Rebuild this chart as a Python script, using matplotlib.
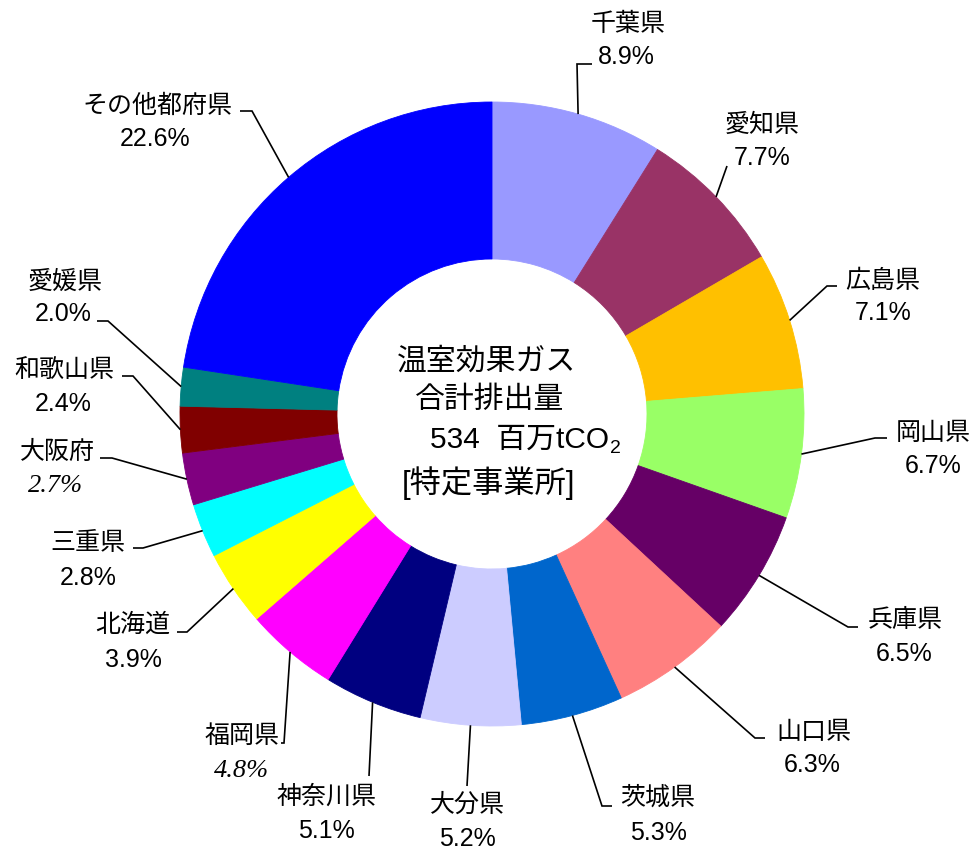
import numpy as np
import matplotlib
matplotlib.use('Agg')
import matplotlib.pyplot as plt

# ---------------- data ----------------
names = ['千葉県', '愛知県', '広島県', '岡山県', '兵庫県', '山口県', '茨城県', '大分県',
         '神奈川県', '福岡県', '北海道', '三重県', '大阪府', '和歌山県', '愛媛県', 'その他都府県']
shares = [8.9, 7.7, 7.1, 6.7, 6.5, 6.3, 5.3, 5.2, 5.1, 4.8, 3.9, 2.8, 2.7, 2.4, 2.0, 22.6]
colors = ['#9999FF', '#993366', '#FFC000', '#99FF66', '#660066', '#FF8080', '#0066CC', '#CCCCFF',
          '#000080', '#FF00FF', '#FFFF00', '#00FFFF', '#800080', '#800000', '#008080', '#0000FF']
italic_items = ['福岡県', '大阪府']
center_lines = ['温室効果ガス', '合計排出量']
total_value = 534
total_unit = '百万tCO'
center_note = '[特定事業所]'

# ---------------- layout (pixel coordinates, y downward) ----------------
W_PX, H_PX = 977, 854
CX, CY, R, RING = 492, 415, 312, 157

# (name x, name y, pct x, pct y)
label_pos = [
    (628, 24, 626, 57),
    (762, 125, 762, 158),
    (883, 281, 883, 313),
    (933, 433, 933, 466),
    (905, 620, 904, 654),
    (814, 732, 812, 765),
    (658, 798, 658, 833),
    (467, 805, 467, 839),
    (327, 797, 326, 831),
    (242, 736, 241, 771),
    (133, 625, 133, 660),
    (88, 543, 88, 578),
    (57, 452, 56, 486),
    (64, 371, 63, 404),
    (65, 282, 63, 314),
    (157, 106, 155, 139),
]
# leader points after the start on the wedge edge
leaders = [
    [(577, 65), (592, 65)],
    [(727, 167)],
    [(827, 287), (837, 287)],
    [(875, 439), (887, 439)],
    [(848, 628), (858, 628)],
    [(755, 739), (765, 739)],
    [(602, 807), (612, 807)],
    [(467, 787)],
    [(369, 777)],
    [(284, 744), (281, 744)],
    [(187, 633), (177, 633)],
    [(143, 549), (133, 549)],
    [(112, 459), (100, 459)],
    [(133, 377), (122, 377)],
    [(108, 322), (97, 322)],
    [(252, 112), (240, 112)],
]


def Y(y):
    return H_PX - y


fig = plt.figure(figsize=(W_PX / 100, H_PX / 100), dpi=100)
ax = fig.add_axes([0, 0, 1, 1])

wedges, _ = ax.pie(shares, colors=colors, startangle=90, counterclock=False,
                   center=(CX, Y(CY)), radius=R,
                   wedgeprops=dict(width=RING, linewidth=0.6))
for w, c in zip(wedges, colors):
    w.set_edgecolor(c)
ax.set_xlim(0, W_PX)
ax.set_ylim(0, H_PX)
ax.set_aspect('auto')
ax.axis('off')

cjk = ['Noto Sans CJK JP', 'DejaVu Sans']
num = ['Liberation Sans', 'DejaVu Sans']
FS = 18

cum = 0.0
for i, (nm, s) in enumerate(zip(names, shares)):
    mid = np.deg2rad(360.0 * (cum + s / 2) / 100.0)
    cum += s
    sx = CX + R * np.sin(mid)
    sy = CY - R * np.cos(mid)
    pts = [(sx, sy)] + leaders[i]
    ax.plot([p[0] for p in pts], [Y(p[1]) for p in pts], color='black', lw=1.2,
            solid_capstyle='butt', solid_joinstyle='miter', zorder=3)
    nx, ny, px, py = label_pos[i]
    ax.text(nx, Y(ny), nm, ha='center', va='center', fontsize=FS, family=cjk)
    if nm in italic_items:
        ax.text(px, Y(py), f'{s:.1f}%', ha='center', va='center', fontsize=FS + 1,
                family=['Liberation Serif', 'DejaVu Serif'], style='italic', color='black')
    else:
        ax.text(px, Y(py), f'{s:.1f}%', ha='center', va='center', fontsize=FS, family=num)

# centre text
CFS = 21.5
ax.text(487, Y(361), center_lines[0], ha='center', va='center', fontsize=CFS, family=cjk)
ax.text(490, Y(400), center_lines[1], ha='center', va='center', fontsize=CFS, family=cjk)
t3 = ax.text(430, Y(440), f'{total_value}  {total_unit}', ha='left', va='center',
             fontsize=CFS, family=['Liberation Sans', 'Noto Sans CJK JP'])
renderer = fig.canvas.get_renderer()
bb = t3.get_window_extent(renderer)
ax.text(bb.x1 + 1, Y(449), '2', ha='left', va='center', fontsize=14,
        family=['Liberation Sans'])
ax.text(488, Y(483), center_note, ha='center', va='center', fontsize=CFS + 1,
        family=['Liberation Sans', 'Noto Sans CJK JP'])

fig.savefig('out.png', dpi=100)
